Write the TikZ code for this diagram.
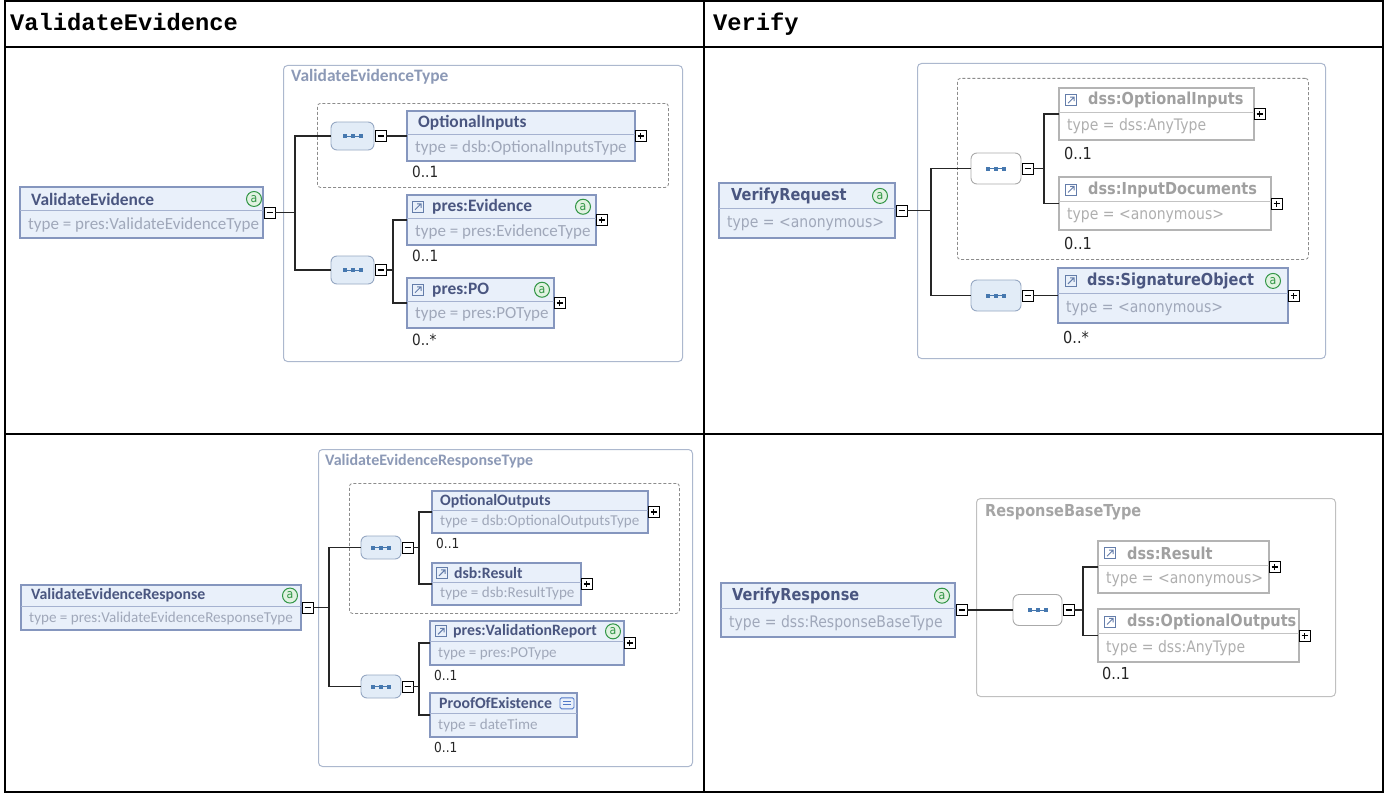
\documentclass[tikz,border=0pt]{standalone}
\usepackage{fontspec}
\usetikzlibrary{positioning}
\newfontfamily\calfont{Carlito}
\newfontfamily\tahfont[FakeStretch=0.88]{DejaVu Sans}
\newfontfamily\hdrfont{Liberation Mono}
\definecolor{boxedge}{RGB}{133,150,190}
\definecolor{boxfill}{RGB}{233,240,250}
\definecolor{sepline}{RGB}{165,178,208}
\definecolor{ttlblue}{RGB}{74,86,128}
\definecolor{typgray}{RGB}{160,168,186}
\definecolor{gedge}{RGB}{180,180,180}
\definecolor{gsep}{RGB}{195,195,195}
\definecolor{gttl}{RGB}{160,160,160}
\definecolor{gtyp}{RGB}{175,175,175}
\definecolor{grpedge}{RGB}{172,184,206}
\definecolor{grptext}{RGB}{140,153,182}
\definecolor{ggrpedge}{RGB}{192,192,192}
\definecolor{ggrptext}{RGB}{165,165,165}
\definecolor{optdash}{RGB}{140,140,140}
\definecolor{cmpfill}{RGB}{226,236,247}
\definecolor{cmpedge}{RGB}{150,168,195}
\definecolor{gcmpedge}{RGB}{170,170,170}
\definecolor{seqblue}{RGB}{70,120,175}
\definecolor{attgreen}{RGB}{50,150,70}
\definecolor{attfill}{RGB}{225,242,225}
\definecolor{lnkblue}{RGB}{100,125,170}
\definecolor{stblue}{RGB}{80,120,200}

% element box: name, style, x, y, w, h, title indent, title, type
\newcommand{\elembox}[9]{%
  \node[#2, anchor=north west, minimum width=#5, minimum height=#6] (#1) at (#3,#4) {};
  \draw[#2 sep] (#3,#4+0.47*#6) -- (#3+#5,#4+0.47*#6);
  \node[ttl, #2 ttl] (#1-t) at (#3+#7,#4+0.235*#6) {#8};
  \node[typ, #2 typ] (#1-y) at (#3+8,#4+0.735*#6) {#9};
}

\begin{document}
\begin{tikzpicture}[x=1pt, y=-1pt,
  tbl/.style={line width=2, black},
  hdr/.style={font=\hdrfont\bfseries\fontsize{23.7}{26}\selectfont, inner sep=0, anchor=base west},
  grp/.style={draw=grpedge, line width=1, rounded corners=4, inner sep=0, anchor=north west},
  ggrp/.style={grp, draw=ggrpedge},
  grplbl/.style={inner sep=0, anchor=west, text=grptext},
  optbox/.style={draw=optdash, dash pattern=on 3pt off 2pt, line width=0.8, rounded corners=3, inner sep=0, anchor=north west},
  elem/.style={draw=boxedge, fill=boxfill, line width=2.4, inner sep=0, outer sep=0},
  elem sep/.style={draw=sepline, line width=1},
  elem ttl/.style={text=ttlblue},
  elem typ/.style={text=typgray},
  gelem/.style={draw=gedge, fill=white, line width=2.4, inner sep=0, outer sep=0},
  gelem sep/.style={draw=gsep, line width=1},
  gelem ttl/.style={text=gttl},
  gelem typ/.style={text=gtyp},
  ttl/.style={inner sep=0, anchor=west},
  typ/.style={inner sep=0, anchor=west},
  occ/.style={inner sep=0, anchor=west, text=black!85},
  wire/.style={line width=1.3, black!85},
  pmbox/.style={draw=black, fill=white, line width=0.9, minimum size=11, inner sep=0, outer sep=0},
  minusbox/.style={pmbox, path picture={\draw[line width=1.1] ([xshift=2.5pt]path picture bounding box.west) -- ([xshift=-2.5pt]path picture bounding box.east);}},
  plusbox/.style={pmbox, path picture={\draw[line width=1.1] ([xshift=2.5pt]path picture bounding box.west) -- ([xshift=-2.5pt]path picture bounding box.east) ([yshift=2.5pt]path picture bounding box.south) -- ([yshift=-2.5pt]path picture bounding box.north);}},
  cmp/.style={rounded corners=6, draw=cmpedge, fill=cmpfill, line width=0.9, inner sep=0, outer sep=0,
    path picture={\draw[seqblue, line width=0.7] ([xshift=-8pt]path picture bounding box.center) -- ([xshift=8pt]path picture bounding box.center);
      \foreach \dx in {-8,0,8} \fill[seqblue, sharp corners] ([xshift=\dx pt]path picture bounding box.center) ++(-2pt,-2pt) rectangle ++(4pt,4pt);}},
  cmpw/.style={cmp, fill=white, draw=gcmpedge},
  badge/.style={circle, draw=attgreen, fill=attfill, line width=1, minimum size=15, inner sep=0, text=attgreen, font=\tahfont\fontsize{12.5}{12.5}\selectfont},
  lnk/.style={draw=lnkblue, line width=0.8, minimum size=11, inner sep=0,
    path picture={\draw[lnkblue, line width=1] ([shift={(2.5pt,2.5pt)}]path picture bounding box.south west) -- ([shift={(-2.5pt,-2.5pt)}]path picture bounding box.north east)
      ([shift={(-6.5pt,-2.5pt)}]path picture bounding box.north east) -- ([shift={(-2.5pt,-2.5pt)}]path picture bounding box.north east) -- ([shift={(-2.5pt,-6.5pt)}]path picture bounding box.north east);}},
  stype/.style={draw=stblue, line width=0.9, minimum width=14, minimum height=11, inner sep=0, rounded corners=1.5,
    path picture={\draw[stblue, line width=0.9, sharp corners] ([shift={(3pt,1.5pt)}]path picture bounding box.west) -- ([shift={(-3pt,1.5pt)}]path picture bounding box.east)
      ([shift={(3pt,-1.5pt)}]path picture bounding box.west) -- ([shift={(-3pt,-1.5pt)}]path picture bounding box.east);}}
]
\useasboundingbox (0,0) rectangle (1387,800);
\fill[white] (0,0) rectangle (1387,800);

% table
\draw[tbl] (4.5,1.5) rectangle (1382.5,791.5);
\draw[tbl] (4.5,47.5) -- (1382.5,47.5);
\draw[tbl] (4.5,433.5) -- (1382.5,433.5);
\draw[tbl] (704,1.5) -- (704,791.5);
\node[hdr] (h-ve) at (10,31) {ValidateEvidence};
\node[hdr] (h-vf) at (713,31) {Verify};

% ValidateEvidence
\begin{scope}[ttl/.append style={font=\calfont\bfseries\fontsize{17.4}{20}\selectfont},
  typ/.append style={font=\calfont\fontsize{17}{20}\selectfont},
  occ/.append style={font=\tahfont\fontsize{15.5}{18}\selectfont},
  grplbl/.append style={font=\calfont\bfseries\fontsize{17.4}{20}\selectfont}]
\node[grp, minimum width=399, minimum height=296] (vet) at (283,65) {};
\node[grplbl] (vet-l) at ([xshift=8pt,yshift=-12pt]vet.north west) {ValidateEvidenceType};
\node[optbox, minimum width=351, minimum height=84] (vet-opt) at (317,103) {};
\elembox{ve}{elem}{20}{187}{243}{51}{11}{ValidateEvidence}{type = pres:ValidateEvidenceType}
\node[badge] (ve-a) at ([xshift=-9pt]ve.east |- ve-t) {a};
\node[minusbox, right=1pt of ve] (ve-m) {};
\node[cmp, minimum width=43, minimum height=28] (c1) at (352.5,136) {};
\node[minusbox, right=1pt of c1] (c1-m) {};
\node[cmp, minimum width=43, minimum height=28] (c2) at (352.5,270) {};
\node[minusbox, right=1pt of c2] (c2-m) {};
\elembox{oi}{elem}{407}{111}{228}{50}{11}{OptionalInputs}{type = dsb:OptionalInputsType}
\node[plusbox, right=0pt of oi] (oi-p) {};
\node[occ] (oi-o) at ([xshift=5pt,yshift=-11pt]oi.south west) {0..1};
\elembox{ev}{elem}{407}{195}{189}{50}{25}{pres:Evidence}{type = pres:EvidenceType}
\node[lnk] (ev-i) at ([xshift=11pt]ev.west |- ev-t) {};
\node[badge] (ev-a) at ([xshift=-13pt]ev.east |- ev-t) {a};
\node[plusbox, right=0pt of ev] (ev-p) {};
\node[occ] (ev-o) at ([xshift=5pt,yshift=-11pt]ev.south west) {0..1};
\elembox{po}{elem}{407}{278}{147}{50}{25}{pres:PO}{type = pres:POType}
\node[lnk] (po-i) at ([xshift=11pt]po.west |- po-t) {};
\node[badge] (po-a) at ([xshift=-12pt]po.east |- po-t) {a};
\node[plusbox, right=0pt of po] (po-p) {};
\node[occ] (po-o) at ([xshift=5pt,yshift=-12pt]po.south west) {0..*};
\draw[wire] (ve-m.east) -- ++(20,0) |- (c1.west);
\draw[wire] (ve-m.east) -- ++(20,0) |- (c2.west);
\draw[wire] (c1-m.east) -- (oi.west);
\draw[wire] (c2-m.east) -- ++(7,0) |- (ev.west);
\draw[wire] (c2-m.east) -- ++(7,0) |- (po.west);
\end{scope}

% Verify request
\begin{scope}[ttl/.append style={font=\tahfont\bfseries\fontsize{16.5}{20}\selectfont},
  typ/.append style={font=\tahfont\fontsize{15.9}{19}\selectfont},
  occ/.append style={font=\tahfont\fontsize{16.5}{19}\selectfont}]
\node[grp, minimum width=408, minimum height=295] (vrt) at (917,63) {};
\node[optbox, minimum width=351, minimum height=181] (vrt-opt) at (957,78) {};
\elembox{vr}{elem}{719}{183}{176}{55}{12}{VerifyRequest}{type = <anonymous>}
\node[badge] (vr-a) at ([xshift=-15pt]vr.east |- vr-t) {a};
\node[minusbox, right=1pt of vr] (vr-m) {};
\node[cmpw, minimum width=50, minimum height=31] (c3) at (996,168.5) {};
\node[minusbox, right=1pt of c3] (c3-m) {};
\node[cmp, minimum width=50, minimum height=31] (c4) at (996,295.5) {};
\node[minusbox, right=1pt of c4] (c4-m) {};
\elembox{oi2}{gelem}{1059}{88}{195}{52}{29}{dss:OptionalInputs}{type = dss:AnyType}
\node[lnk] (oi2-i) at ([xshift=12pt]oi2.west |- oi2-t) {};
\node[plusbox, right=0pt of oi2] (oi2-p) {};
\node[occ] (oi2-o) at ([xshift=5pt,yshift=-13pt]oi2.south west) {0..1};
\elembox{id}{gelem}{1059}{177}{212}{53}{29}{dss:InputDocuments}{type = <anonymous>}
\node[lnk] (id-i) at ([xshift=12pt]id.west |- id-t) {};
\node[plusbox, right=0pt of id] (id-p) {};
\node[occ] (id-o) at ([xshift=5pt,yshift=-13pt]id.south west) {0..1};
\elembox{so}{elem}{1058}{268}{230}{55}{29}{dss:SignatureObject}{type = <anonymous>}
\node[lnk] (so-i) at ([xshift=13pt]so.west |- so-t) {};
\node[badge] (so-a) at ([xshift=-15pt]so.east |- so-t) {a};
\node[plusbox, right=0pt of so] (so-p) {};
\node[occ] (so-o) at ([xshift=5pt,yshift=-14pt]so.south west) {0..*};
\draw[wire] (vr-m.east) -- ++(24,0) |- (c3.west);
\draw[wire] (vr-m.east) -- ++(24,0) |- (c4.west);
\draw[wire] (c3-m.east) -- ++(11,0) |- (oi2.west);
\draw[wire] (c3-m.east) -- ++(11,0) |- (id.west);
\draw[wire] (c4-m.east) -- (so.west);
\end{scope}

% ValidateEvidence response
\begin{scope}[ttl/.append style={font=\calfont\bfseries\fontsize{15.8}{19}\selectfont},
  typ/.append style={font=\calfont\fontsize{15.1}{18}\selectfont},
  occ/.append style={font=\tahfont\fontsize{13.8}{16}\selectfont},
  grplbl/.append style={font=\calfont\bfseries\fontsize{16}{19}\selectfont}]
\node[grp, minimum width=374, minimum height=317] (vert) at (318,449) {};
\node[grplbl] (vert-l) at ([xshift=7pt,yshift=-12pt]vert.north west) {ValidateEvidenceResponseType};
\node[optbox, minimum width=330, minimum height=130] (vert-opt) at (349,483) {};
\elembox{ver}{elem}{21}{585}{280}{45}{10}{ValidateEvidenceResponse}{type = pres:ValidateEvidenceResponseType}
\node[badge] (ver-a) at ([xshift=-11pt]ver.east |- ver-t) {a};
\node[minusbox, right=1pt of ver] (ver-m) {};
\node[cmp, minimum width=40, minimum height=23] (c5) at (381,547.5) {};
\node[minusbox, right=1pt of c5] (c5-m) {};
\node[cmp, minimum width=40, minimum height=23] (c6) at (381,686.5) {};
\node[minusbox, right=1pt of c6] (c6-m) {};
\elembox{oo}{elem}{432}{491}{216}{42}{8}{OptionalOutputs}{type = dsb:OptionalOutputsType}
\node[plusbox, right=0pt of oo] (oo-p) {};
\node[occ] (oo-o) at ([xshift=4pt,yshift=-10pt]oo.south west) {0..1};
\elembox{res}{elem}{432}{563}{149}{42}{22}{dsb:Result}{type = dsb:ResultType}
\node[lnk] (res-i) at ([xshift=10pt]res.west |- res-t) {};
\node[plusbox, right=0pt of res] (res-p) {};
\elembox{vrpt}{elem}{430}{621}{194}{44}{23}{pres:ValidationReport}{type = pres:POType}
\node[lnk] (vrpt-i) at ([xshift=11pt]vrpt.west |- vrpt-t) {};
\node[badge] (vrpt-a) at ([xshift=-11pt]vrpt.east |- vrpt-t) {a};
\node[plusbox, right=0pt of vrpt] (vrpt-p) {};
\node[occ] (vrpt-o) at ([xshift=4pt,yshift=-10pt]vrpt.south west) {0..1};
\elembox{poe}{elem}{430}{693}{147}{44}{9}{ProofOfExistence}{type = dateTime}
\node[stype] (poe-i) at ([xshift=-10pt]poe.east |- poe-t) {};
\node[occ] (poe-o) at ([xshift=4pt,yshift=-10pt]poe.south west) {0..1};
\draw[wire] (ver-m.east) -- ++(16,0) |- (c5.west);
\draw[wire] (ver-m.east) -- ++(16,0) |- (c6.west);
\draw[wire] (c5-m.east) -- ++(6,0) |- (oo.west);
\draw[wire] (c5-m.east) -- ++(6,0) |- (res.west);
\draw[wire] (c6-m.east) -- ++(6,0) |- (vrpt.west);
\draw[wire] (c6-m.east) -- ++(6,0) |- (poe.west);
\end{scope}

% Verify response
\begin{scope}[ttl/.append style={font=\tahfont\bfseries\fontsize{16.5}{20}\selectfont},
  typ/.append style={font=\tahfont\fontsize{15.9}{19}\selectfont},
  occ/.append style={font=\tahfont\fontsize{16.5}{19}\selectfont},
  grplbl/.append style={font=\tahfont\bfseries\fontsize{16.5}{19}\selectfont, text=ggrptext}]
\node[ggrp, minimum width=359, minimum height=198] (rbt) at (976,498) {};
\node[grplbl] (rbt-l) at ([xshift=9pt,yshift=-14pt]rbt.north west) {ResponseBaseType};
\elembox{vres}{elem}{721}{583}{234}{54}{11}{VerifyResponse}{type = dss:ResponseBaseType}
\node[badge] (vres-a) at ([xshift=-13pt]vres.east |- vres-t) {a};
\node[minusbox, right=1pt of vres] (vres-m) {};
\node[cmpw, minimum width=49, minimum height=31] (c7) at (1037.5,610) {};
\node[minusbox, right=1pt of c7] (c7-m) {};
\elembox{res2}{gelem}{1098}{541}{171}{52}{29}{dss:Result}{type = <anonymous>}
\node[lnk] (res2-i) at ([xshift=12pt]res2.west |- res2-t) {};
\node[plusbox, right=0pt of res2] (res2-p) {};
\elembox{oo2}{gelem}{1098}{609}{201}{53}{29}{dss:OptionalOutputs}{type = dss:AnyType}
\node[lnk] (oo2-i) at ([xshift=12pt]oo2.west |- oo2-t) {};
\node[plusbox, right=0pt of oo2] (oo2-p) {};
\node[occ] (oo2-o) at ([xshift=4pt,yshift=-11pt]oo2.south west) {0..1};
\draw[wire] (vres-m.east) -- (c7.west);
\draw[wire] (c7-m.east) -- ++(9,0) |- (res2.west);
\draw[wire] (c7-m.east) -- ++(9,0) |- (oo2.west);
\end{scope}
\end{tikzpicture}
\end{document}
